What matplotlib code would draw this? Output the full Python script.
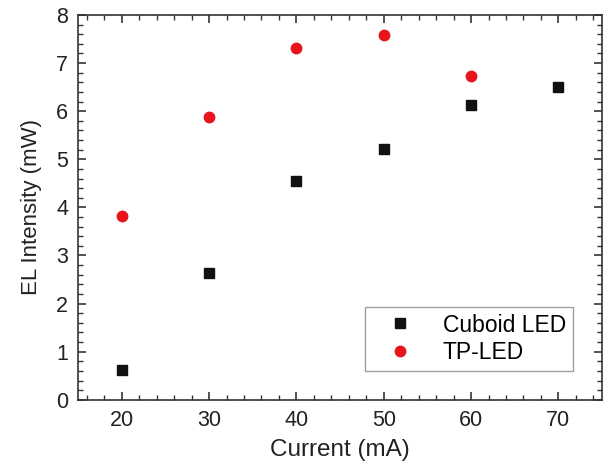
import numpy as np
import matplotlib.pyplot as plt
from matplotlib.ticker import MultipleLocator

plt.rcParams['font.family'] = ['Liberation Sans', 'DejaVu Sans']

current = [20, 30, 40, 50, 60, 70]
cuboid = [0.62, 2.63, 4.55, 5.22, 6.12, 6.50]
current_tp = [20, 30, 40, 50, 60]
tp_led = [3.82, 5.88, 7.32, 7.58, 6.73]

fig = plt.figure(figsize=(6.1, 4.66), dpi=100)
ax = fig.add_axes([0.128, 0.142, 0.859, 0.826])

ax.plot(current, cuboid, 's', color='#111111', markersize=6.5, label='Cuboid LED', linestyle='none')
ax.plot(current_tp, tp_led, 'o', color='#e8141c', markersize=7.5, label='TP-LED', linestyle='none')

ax.set_xlim(15, 75)
ax.set_ylim(0, 8)
ax.xaxis.set_major_locator(MultipleLocator(10))
ax.xaxis.set_minor_locator(MultipleLocator(2))
ax.yaxis.set_major_locator(MultipleLocator(1))
ax.yaxis.set_minor_locator(MultipleLocator(0.2))
ax.tick_params(which='both', direction='in', top=True, right=True, labelsize=15.5,
               color='#333333', labelcolor='#222222')
ax.tick_params(which='major', length=6, width=1.2, pad=7)
ax.tick_params(which='minor', length=3.5, width=1.0)
for s in ax.spines.values():
    s.set_linewidth(1.2)
    s.set_color('#333333')

ax.set_xlabel('Current (mA)', fontsize=17.5, color='#222222', labelpad=6)
ax.set_ylabel('EL Intensity (mW)', fontsize=16, color='#222222', labelpad=10)

leg = ax.legend(loc='lower right', bbox_to_anchor=(0.944, 0.075), fontsize=16.5, frameon=True,
                fancybox=False, edgecolor='#888888', handletextpad=0.6, borderpad=0.3,
                labelspacing=0.2, borderaxespad=0, handlelength=2.5)
leg.get_frame().set_linewidth(1.0)

fig.savefig('out.png', dpi=100)
